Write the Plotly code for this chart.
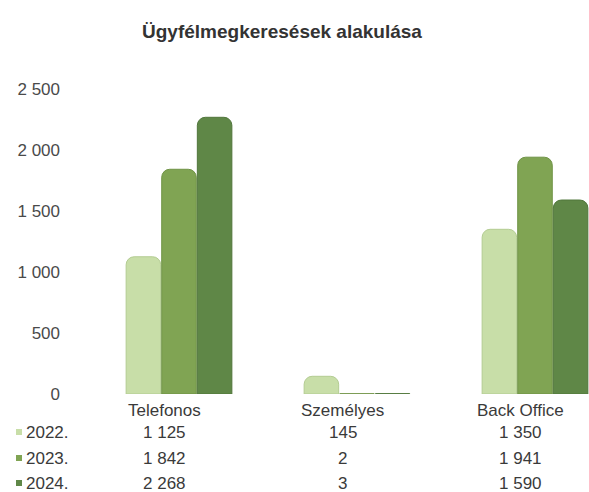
import plotly.graph_objects as go

categories = ["Telefonos", "Személyes", "Back Office"]
series_names = ["2022.", "2023.", "2024."]
values_2022 = [1125, 145, 1350]
values_2023 = [1842, 2, 1941]
values_2024 = [2268, 3, 1590]
table_text_2022 = ["1 125", "145", "1 350"]
table_text_2023 = ["1 842", "2", "1 941"]
table_text_2024 = ["2 268", "3", "1 590"]
tick_vals = [0, 500, 1000, 1500, 2000, 2500]
tick_text = ["0", "500", "1 000", "1 500", "2 000", "2 500"]
title_text = "Ügyfélmegkeresések alakulása"

colors = ["#c8dea8", "#80a453", "#5f8747"]
edge_colors = ["#b3cc92", "#6f9345", "#50763b"]
series_values = [values_2022, values_2023, values_2024]
table_texts = [table_text_2022, table_text_2023, table_text_2024]

FONT = "Liberation Sans, Arial, sans-serif"
W, H = 589, 492
L, R, T, B = 90, 0, 89, 98
plot_w = W - L - R
plot_h = H - T - B
cat_px = 178.0

fig = go.Figure()
for name, vals, c, ec in zip(series_names, series_values, colors, edge_colors):
    fig.add_trace(go.Bar(
        x=categories, y=vals, name=name,
        marker=dict(color=c, line=dict(color=ec, width=1)),
        showlegend=False, hoverinfo="skip",
    ))

x_end = -0.5 + plot_w / cat_px

annotations = []
def py_to_paper(py):
    return (H - B - py) / plot_h

# category labels
for i, cat in enumerate(categories):
    annotations.append(dict(x=i - 0.08, y=py_to_paper(410), xref="x", yref="paper",
                            text=cat, showarrow=False, xanchor="center", yanchor="middle",
                            font=dict(family=FONT, size=17, color="#3a3a3a")))
row_y = [432, 458, 483]
shapes = []
for r, (name, texts, c) in enumerate(zip(series_names, table_texts, colors)):
    yp = py_to_paper(row_y[r])
    annotations.append(dict(x=(24 - L) / plot_w, y=yp, xref="paper", yref="paper",
                            text=name, showarrow=False, xanchor="left", yanchor="middle",
                            font=dict(family=FONT, size=17, color="#3a3a3a")))
    shapes.append(dict(type="rect", xref="paper", yref="paper",
                       x0=(16 - L) / plot_w, x1=(22 - L) / plot_w,
                       y0=py_to_paper(row_y[r] + 3), y1=py_to_paper(row_y[r] - 3),
                       fillcolor=c, line=dict(width=0)))
    for i, t in enumerate(texts):
        annotations.append(dict(x=i - 0.08, y=yp, xref="x", yref="paper",
                                text=t, showarrow=False, xanchor="center", yanchor="middle",
                                font=dict(family=FONT, size=17, color="#3a3a3a")))

fig.update_layout(
    width=W, height=H,
    margin=dict(l=L, r=R, t=T, b=B, pad=0),
    paper_bgcolor="white", plot_bgcolor="white",
    barmode="group", bargap=0.4, bargroupgap=0.03,
    barcornerradius=8,
    title=dict(text="<b>" + title_text + "</b>", x=282 / W, xanchor="center",
               y=1 - 31 / H, yanchor="middle",
               font=dict(family=FONT, size=19, color="#333333")),
    xaxis=dict(range=[-0.5, x_end], showticklabels=False, showgrid=False,
               zeroline=False, showline=False, ticks=""),
    yaxis=dict(range=[0, 2500], tickvals=tick_vals, ticktext=tick_text,
               showgrid=False, zeroline=False, showline=False,
               ticks="", ticklabelstandoff=29,
               tickfont=dict(family=FONT, size=17, color="#4a4a4a")),
    annotations=annotations,
    shapes=shapes,
)

fig.write_html("out.html", config={"displayModeBar": False},
               post_script="document.body.style.margin='0';document.body.style.overflow='hidden';")
